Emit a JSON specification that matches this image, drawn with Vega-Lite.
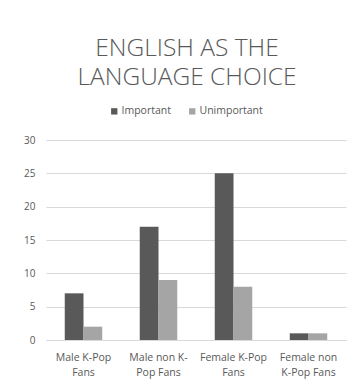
{
  "$schema": "https://vega.github.io/schema/vega-lite/v6.json",
  "width": 300,
  "height": 200,
  "autosize": {"type": "none"},
  "padding": {"left": 46, "top": 140, "right": 7, "bottom": 45},
  "background": "white",
  "title": {
    "text": ["ENGLISH AS THE", "LANGUAGE CHOICE"],
    "font": "Open Sans",
    "fontWeight": 300,
    "fontSize": 24.5,
    "color": "#595959",
    "lineHeight": 29,
    "anchor": "middle",
    "frame": "group",
    "dx": -9,
    "offset": 16
  },
  "data": {
    "values": [
      {"group": "Male K-Pop Fans", "type": "Important", "value": 7},
      {"group": "Male K-Pop Fans", "type": "Unimportant", "value": 2},
      {"group": "Male non K-Pop Fans", "type": "Important", "value": 17},
      {"group": "Male non K-Pop Fans", "type": "Unimportant", "value": 9},
      {"group": "Female K-Pop Fans", "type": "Important", "value": 25},
      {"group": "Female K-Pop Fans", "type": "Unimportant", "value": 8},
      {"group": "Female non K-Pop Fans", "type": "Important", "value": 1},
      {"group": "Female non K-Pop Fans", "type": "Unimportant", "value": 1}
    ]
  },
  "mark": {"type": "bar"},
  "encoding": {
    "x": {
      "field": "group",
      "type": "nominal",
      "sort": null,
      "scale": {"paddingInner": 0.5, "paddingOuter": 0.25},
      "axis": {
        "title": null,
        "labelAngle": 0,
        "ticks": false,
        "domainColor": "#d9d9d9",
        "labelColor": "#595959",
        "labelFont": "Open Sans",
        "labelFontSize": 10.5,
        "labelPadding": 12,
        "labelLineHeight": 15,
        "labelExpr": "datum.value == 'Male K-Pop Fans' ? ['Male K-Pop', 'Fans'] : datum.value == 'Male non K-Pop Fans' ? ['Male non K-', 'Pop Fans'] : datum.value == 'Female K-Pop Fans' ? ['Female K-Pop', 'Fans'] : ['Female non', 'K-Pop Fans']"
      }
    },
    "xOffset": {"field": "type", "type": "nominal"},
    "y": {
      "field": "value",
      "type": "quantitative",
      "scale": {"domain": [0, 30]},
      "axis": {
        "title": null,
        "values": [0, 5, 10, 15, 20, 25, 30],
        "domain": false,
        "ticks": false,
        "gridColor": "#d9d9d9",
        "labelColor": "#595959",
        "labelFont": "Open Sans",
        "labelFontSize": 10,
        "labelPadding": 11
      }
    },
    "color": {
      "field": "type",
      "type": "nominal",
      "scale": {"domain": ["Important", "Unimportant"], "range": ["#595959", "#a5a5a5"]},
      "legend": {
        "title": null,
        "orient": "none",
        "legendX": 63,
        "legendY": -34,
        "direction": "horizontal",
        "symbolType": "square",
        "symbolSize": 40,
        "symbolStrokeWidth": 0,
        "labelColor": "#595959",
        "labelFont": "Open Sans",
        "labelFontSize": 10.5,
        "labelOffset": 2,
        "columnPadding": 16
      }
    }
  },
  "config": {
    "view": {"stroke": null}
  }
}
